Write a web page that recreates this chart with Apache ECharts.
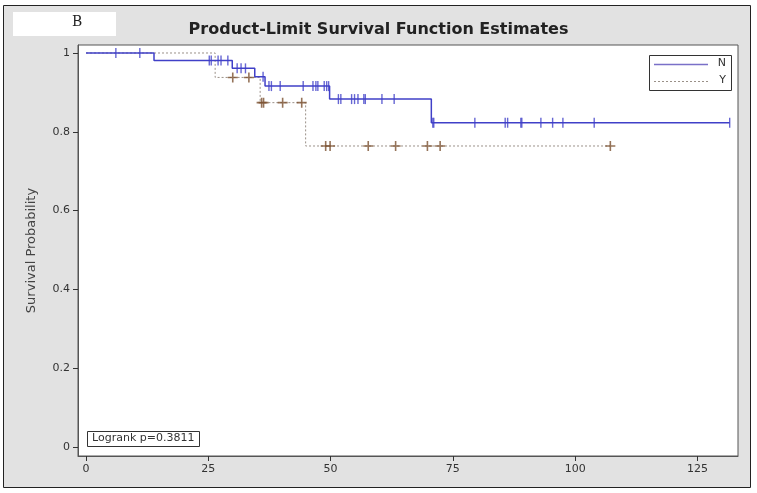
<!DOCTYPE html>
<html>
<head>
<meta charset="utf-8">
<script src="https://cdn.jsdelivr.net/npm/echarts@6/dist/echarts.min.js"></script>
<style>html,body{margin:0;padding:0;background:#fff;}#c{width:757px;height:493px;}</style>
</head>
<body>
<div id="c"></div>
<script>
// ---- data ----
var xTicks = [0, 25, 50, 75, 100, 125];
var yTicks = [0, 0.2, 0.4, 0.6, 0.8, 1];
var groups = ['N', 'Y'];
// group N: step times and survival after each step
var nStepTimes = [0, 13.9, 29.9, 34.5, 36.6, 49.8, 70.6, 131.6];
var nStepSurv  = [1, 0.981, 0.961, 0.940, 0.916, 0.883, 0.823, 0.823];
var nCensor = [6.1, 11.0, 25.2, 25.6, 27.0, 27.6, 29.0, 30.9, 31.7, 32.6, 36.2, 37.4, 37.9, 39.7,
               44.4, 46.4, 47.0, 47.4, 48.7, 49.2, 49.6, 51.6, 52.1, 54.3, 54.9, 55.6, 56.8, 57.1,
               60.5, 63.0, 70.9, 71.1, 79.5, 85.7, 86.2, 88.9, 89.1, 93.0, 95.4, 97.5, 103.9, 131.6];
// group Y
var yStepTimes = [0, 26.4, 35.6, 44.9, 107.2];
var yStepSurv  = [1, 0.938, 0.874, 0.764, 0.764];
var yCensor = [30.0, 33.3, 35.9, 36.3, 40.2, 44.1, 49.0, 49.9, 57.7, 63.3, 69.8, 72.4, 107.2];
var pText = 'Logrank p=0.3811';

function survAt(times, surv, t) {
  var v = surv[0];
  for (var i = 0; i < times.length; i++) { if (times[i] <= t) v = surv[i]; }
  return v;
}
function pairs(a, b) { return a.map(function (t, i) { return [t, b[i]]; }); }
function censorPts(c, times, surv) { return c.map(function (t) { return [t, survAt(times, surv, t)]; }); }

var plus = 'path://M-0.8,-5H0.8V-0.8H5V0.8H0.8V5H-0.8V0.8H-5V-0.8H-0.8Z';
var blue = '#4040c8';
var tan = '#9a9088';
var chart = echarts.init(document.getElementById('c'));
chart.setOption({
  animation: false,
  backgroundColor: '#ffffff',
  graphic: [
    { type: 'rect', z: -10, shape: { x: 3.5, y: 5.5, width: 747, height: 482 },
      style: { fill: '#e2e2e2', stroke: '#222', lineWidth: 1 } },
    { type: 'rect', z: -9, shape: { x: 13, y: 12, width: 103, height: 24 }, style: { fill: '#ffffff' } },
    { type: 'text', left: 72, top: 15, style: { text: 'B', font: '14px "DejaVu Serif"', fill: '#222' } },
    { type: 'text', left: 'center', top: 22, style: { text: 'Product-Limit Survival Function Estimates',
      font: 'bold 16px "DejaVu Sans"', fill: '#222' } },
    { type: 'group', left: 87, top: 431, z: 50, children: [
      { type: 'rect', shape: { x: 0.5, y: 0.5, width: 112, height: 15 }, style: { fill: '#fff', stroke: '#333', lineWidth: 1 } },
      { type: 'text', x: 5, y: 2, style: { text: pText, font: '11px "DejaVu Sans"', fill: '#333' } }
    ] },
    { type: 'group', left: 649, top: 55, z: 50, children: [
      { type: 'rect', shape: { x: 0.5, y: 0.5, width: 82, height: 35 }, style: { fill: '#fff', stroke: '#333', lineWidth: 1 } },
      { type: 'line', shape: { x1: 5, y1: 9.5, x2: 59, y2: 9.5 }, style: { stroke: '#7a70c8', lineWidth: 1.5 } },
      { type: 'line', shape: { x1: 5, y1: 26.5, x2: 59, y2: 26.5 }, style: { stroke: tan, lineWidth: 1, lineDash: [2, 2] } },
      { type: 'text', x: 77, y: 3, style: { text: groups[0], font: '11px "DejaVu Sans"', fill: '#333', align: 'right' } },
      { type: 'text', x: 77, y: 20, style: { text: groups[1], font: '11px "DejaVu Sans"', fill: '#333', align: 'right' } }
    ] }
  ],
  grid: { left: 78, top: 45, width: 660, height: 411, show: true, borderColor: '#555', borderWidth: 1, backgroundColor: '#fff' },
  xAxis: {
    type: 'value', min: -1.64, max: 133.3,
    axisLine: { show: true, onZero: false, lineStyle: { color: '#555' } },
    axisTick: { show: true, customValues: xTicks, length: 5, lineStyle: { color: '#333' } },
    axisLabel: { customValues: xTicks, color: '#333', fontSize: 11, margin: 8, fontFamily: 'DejaVu Sans' },
    splitLine: { show: false }
  },
  yAxis: {
    type: 'value', min: -0.0228, max: 1.0203,
    name: 'Survival Probability', nameLocation: 'middle', nameGap: 40,
    nameTextStyle: { fontSize: 13, color: '#444', fontFamily: 'DejaVu Sans' },
    axisLine: { show: true, onZero: false, lineStyle: { color: '#555' } },
    axisTick: { show: true, customValues: yTicks, length: 5, lineStyle: { color: '#333' } },
    axisLabel: { customValues: yTicks, color: '#333', fontSize: 11, margin: 8, fontFamily: 'DejaVu Sans',
      formatter: function (v) { return String(Math.round(v * 10) / 10); } },
    splitLine: { show: false }
  },
  series: [
    { name: groups[0], type: 'line', step: 'end', symbol: 'none', data: pairs(nStepTimes, nStepSurv),
      lineStyle: { color: blue, width: 1.5 }, itemStyle: { color: blue }, z: 3 },
    { name: groups[1], type: 'line', step: 'end', symbol: 'none', data: pairs(yStepTimes, yStepSurv),
      lineStyle: { color: tan, width: 1, type: [2, 2] }, itemStyle: { color: tan }, z: 2 },
    { name: 'Nc', type: 'scatter', symbol: 'rect', symbolSize: [1.4, 10], data: censorPts(nCensor, nStepTimes, nStepSurv),
      itemStyle: { color: blue }, z: 4 },
    { name: 'Yc', type: 'scatter', symbol: plus, symbolSize: [10, 10], data: censorPts(yCensor, yStepTimes, yStepSurv),
      itemStyle: { color: '#7a5030' }, z: 4 }
  ]
});
</script>
</body>
</html>
